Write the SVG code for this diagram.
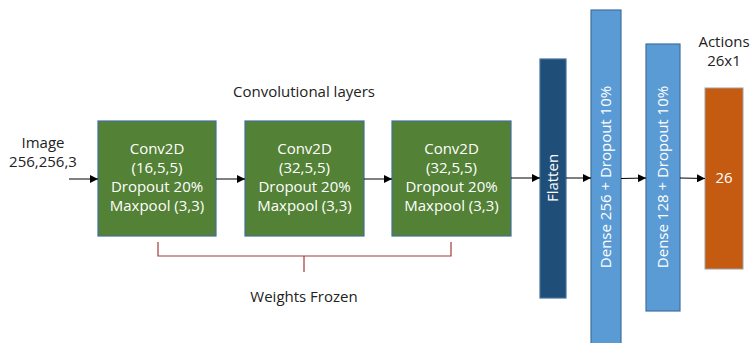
<svg xmlns="http://www.w3.org/2000/svg" width="751" height="343" viewBox="0 0 751 343">
<defs>
<marker id="ah" markerWidth="8" markerHeight="8" refX="8" refY="4" orient="auto" markerUnits="userSpaceOnUse">
<path d="M0,0 L8,4 L0,8 z" fill="#000"/>
</marker>
<style>
text{font-family:"Open Sans","DejaVu Sans",sans-serif;font-size:15px;}
.lbl{fill:#222;text-anchor:middle;}
.w{fill:#fff;text-anchor:middle;}
.conv{fill:#538135;stroke:#41719C;stroke-width:1.2;}
.flat{fill:#1F4E79;stroke:#41719C;stroke-width:1.2;}
.dense{fill:#5B9BD5;stroke:#41719C;stroke-width:1.2;}
.out{fill:#C55A11;stroke:#A0A0A0;stroke-width:1;}
.arr{stroke:#000;stroke-width:1;fill:none;marker-end:url(#ah);}
.br{stroke:#A33A3A;stroke-width:1.2;fill:none;}
</style>
</defs>
<g id="input-label">
<text class="lbl" x="43" y="148">Image</text>
<text class="lbl" x="43" y="167">256,256,3</text>
</g>
<g id="conv-title"><text class="lbl" x="304" y="97">Convolutional layers</text></g>
<g id="conv1">
<rect class="conv" x="98" y="121" width="118" height="115"/>
<text class="w" x="157" y="154">Conv2D</text>
<text class="w" x="157" y="173">(16,5,5)</text>
<text class="w" x="157" y="192">Dropout 20%</text>
<text class="w" x="157" y="211">Maxpool (3,3)</text>
</g>
<g id="conv2">
<rect class="conv" x="245" y="121" width="119" height="115"/>
<text class="w" x="304.5" y="154">Conv2D</text>
<text class="w" x="304.5" y="173">(32,5,5)</text>
<text class="w" x="304.5" y="192">Dropout 20%</text>
<text class="w" x="304.5" y="211">Maxpool (3,3)</text>
</g>
<g id="conv3">
<rect class="conv" x="392" y="121" width="119" height="115"/>
<text class="w" x="451.5" y="154">Conv2D</text>
<text class="w" x="451.5" y="173">(32,5,5)</text>
<text class="w" x="451.5" y="192">Dropout 20%</text>
<text class="w" x="451.5" y="211">Maxpool (3,3)</text>
</g>
<g id="flatten">
<rect class="flat" x="540" y="59" width="26" height="239"/>
<text class="w" transform="translate(558,178) rotate(-90)">Flatten</text>
</g>
<g id="dense256">
<rect class="dense" x="591" y="10" width="30" height="340"/>
<text class="w" transform="translate(611,177) rotate(-90)">Dense 256 + Dropout 10%</text>
</g>
<g id="dense128">
<rect class="dense" x="646" y="44" width="34" height="267"/>
<text class="w" transform="translate(668,177) rotate(-90)">Dense 128 + Dropout 10%</text>
</g>
<g id="output">
<rect class="out" x="705" y="88" width="38" height="181"/>
<text class="w" x="724" y="183">26</text>
<text class="lbl" x="724" y="47">Actions</text>
<text class="lbl" x="724" y="66">26x1</text>
</g>
<g id="frozen-label"><text class="lbl" x="304" y="302">Weights Frozen</text></g>
<g id="connectors">
<line class="arr" x1="69" y1="179" x2="98" y2="179"/>
<line class="arr" x1="216" y1="179" x2="245" y2="179"/>
<line class="arr" x1="364" y1="179" x2="392" y2="179"/>
<line class="arr" x1="511" y1="178" x2="540" y2="178"/>
<line class="arr" x1="566" y1="178" x2="591" y2="178"/>
<line class="arr" x1="621" y1="178.5" x2="646" y2="178"/>
<line class="arr" x1="680" y1="178" x2="705" y2="178.5"/>
<path class="br" d="M158,242 V256 H451 V242 M304,256 V272"/>
</g>
</svg>
